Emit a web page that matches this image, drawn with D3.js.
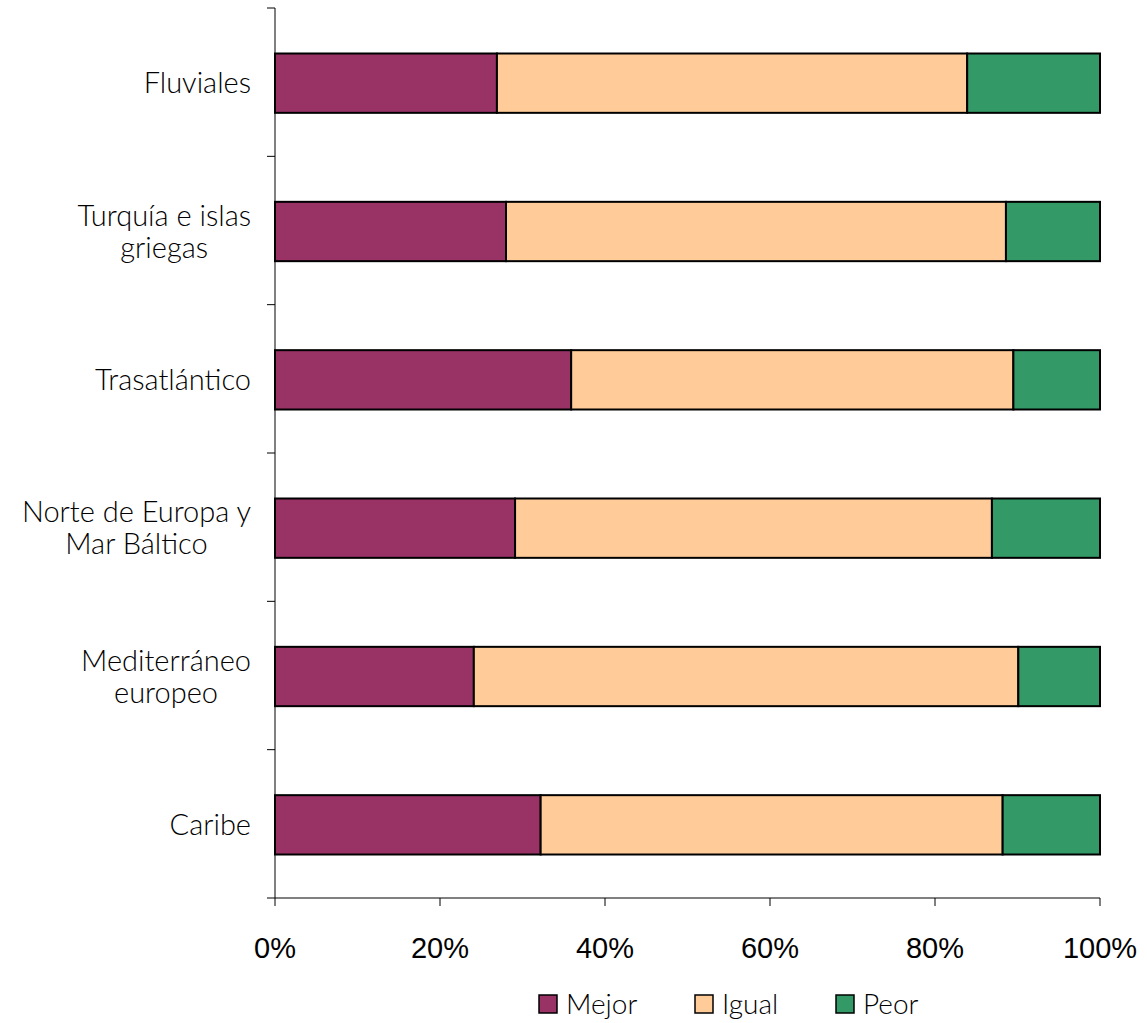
<!DOCTYPE html>
<html><head><meta charset="utf-8">
<script src="https://cdn.jsdelivr.net/npm/d3@7"></script>
<style>body{margin:0;background:#fff}</style>
</head><body>
<svg id="c" width="1147" height="1023"></svg>
<script>
const categories = ["Fluviales", "Turquía e islas griegas", "Trasatlántico", "Norte de Europa y Mar Báltico", "Mediterráneo europeo", "Caribe"];
const labelLines = [["Fluviales"], ["Turquía e islas", "griegas"], ["Trasatlántico"], ["Norte de Europa y", "Mar Báltico"], ["Mediterráneo", "europeo"], ["Caribe"]];
const mejor = [26.9, 28.0, 35.9, 29.1, 24.1, 32.2];
const igual = [57.0, 60.6, 53.6, 57.8, 66.0, 56.0];
const peor  = [16.1, 11.4, 10.5, 13.1, 9.9, 11.8];
const seriesNames = ["Mejor", "Igual", "Peor"];
const colors = ["#993366", "#FFCC99", "#339966"];
const xTicks = [0, 20, 40, 60, 80, 100];

(function(){
const svg = d3.select("#c");
const pLeft = 275, pRight = 1100, pTop = 8, pBottom = 898;
const x = d3.scaleLinear().domain([0, 100]).range([pLeft, pRight]);
const y = d3.scaleBand().domain(categories).range([pTop, pBottom]).paddingInner(0).paddingOuter(0);
const barH = y.bandwidth() * 0.40;

const rows = categories.map((c, i) => ({cat: c, Mejor: mejor[i], Igual: igual[i], Peor: peor[i]}));
const stack = d3.stack().keys(seriesNames)(rows);

const g = svg.append("g");
g.append("line").attr("x1", pLeft).attr("x2", pLeft).attr("y1", pTop).attr("y2", pBottom).attr("stroke", "#000").attr("stroke-width", 1);
g.append("line").attr("x1", pLeft - 8).attr("x2", pRight).attr("y1", pBottom).attr("y2", pBottom).attr("stroke", "#000").attr("stroke-width", 1);
const bounds = categories.map(c => y(c));
g.selectAll(".yt").data(bounds).join("line")
  .attr("x1", pLeft - 8).attr("x2", pLeft).attr("y1", d => d).attr("y2", d => d).attr("stroke", "#000");
g.selectAll(".xt").data(xTicks).join("line")
  .attr("x1", d => x(d)).attr("x2", d => x(d)).attr("y1", pBottom).attr("y2", pBottom + 8).attr("stroke", "#000");
g.selectAll(".xl").data(xTicks).join("text")
  .attr("x", d => x(d)).attr("y", pBottom + 60).attr("text-anchor", "middle")
  .attr("font-family", "'Liberation Sans', Arial, sans-serif").attr("font-size", 29).attr("fill", "#000")
  .text(d => d + "%");

stack.forEach((s, si) => {
  svg.append("g").selectAll("rect").data(s).join("rect")
    .attr("x", d => x(d[0])).attr("width", d => x(d[1]) - x(d[0]))
    .attr("y", d => y(d.data.cat) + (y.bandwidth() - barH) / 2 + 1).attr("height", barH)
    .attr("fill", colors[si]).attr("stroke", "#000").attr("stroke-width", 2);
});

const font = "Lato, 'Open Sans', sans-serif";
const lab = svg.append("g").attr("font-family", font).attr("font-size", 29).attr("font-weight", 300).attr("fill", "#000");
categories.forEach((c, i) => {
  const lines = labelLines[i];
  const cy = y(c) + y.bandwidth() / 2 + 1;
  const lh = 32;
  const tmp = lines.map(t => {
    const n = lab.append("text").text(t);
    const w = n.node().getComputedTextLength();
    return {n, w};
  });
  const maxW = d3.max(tmp, d => d.w);
  const rx = 251;
  tmp.forEach((d, li) => {
    const yy = cy + (li - (lines.length - 1) / 2) * lh + 10;
    d.n.attr("x", rx - maxW / 2).attr("y", yy).attr("text-anchor", "middle");
  });
});

const legX = [539, 695, 836];
const leg = svg.append("g");
seriesNames.forEach((s, i) => {
  leg.append("rect").attr("x", legX[i]).attr("y", 995).attr("width", 18).attr("height", 18)
    .attr("fill", colors[i]).attr("stroke", "#000").attr("stroke-width", 1.5);
  leg.append("text").attr("x", legX[i] + 27).attr("y", 1014).attr("font-family", font).attr("font-size", 28)
    .attr("font-weight", 300).attr("fill", "#000").text(s);
});
})();
</script>
</body></html>
